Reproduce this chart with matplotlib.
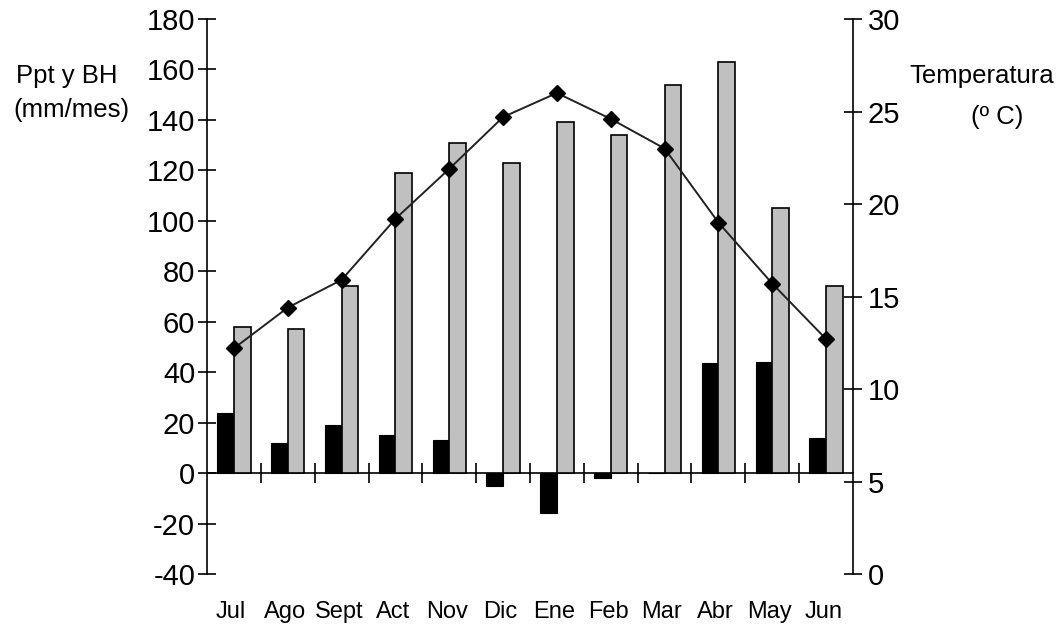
import numpy as np
import matplotlib
matplotlib.use("Agg")
import matplotlib.pyplot as plt

plt.rcParams['font.family'] = ['Liberation Sans', 'DejaVu Sans']
plt.rcParams['axes.unicode_minus'] = False

# Monthly water balance (mm/month) and mean temperature (deg C)
months = ["Jul", "Ago", "Sept", "Act", "Nov", "Dic",
          "Ene", "Feb", "Mar", "Abr", "May", "Jun"]
balance = [24, 12, 19, 15, 13, -5, -16, -2, 0, 43.5, 44, 14]
precip = [58, 57, 74, 119, 131, 123, 139, 134, 154, 163, 105, 74]
temperature = [12.2, 14.4, 15.9, 19.2, 21.9, 24.7, 26.0, 24.6, 23.0, 19.0, 15.7, 12.7]

left_ticks = list(range(-40, 181, 20))
right_ticks = list(range(0, 31, 5))

fig = plt.figure(figsize=(10.6, 6.29), dpi=100)
ax = fig.add_axes([0.1953, 0.0874, 0.6094, 0.8824])
ax2 = ax.twinx()

x = np.arange(len(months)) + 0.5
w = 0.31

ax.bar(x - w / 2, balance, width=w, color="black", edgecolor="black",
       linewidth=0.8, zorder=3)
ax.bar(x + w / 2, precip, width=w, color="#c0c0c0", edgecolor="black",
       linewidth=1.2, zorder=3)

ax.set_xlim(0, len(months))
ax.set_ylim(-40, 180)
ax.set_yticks(left_ticks)
ax.tick_params(axis="y", direction="inout", length=13, width=1.2,
               labelsize=21, pad=2)

# horizontal axis sits on the zero line, with ticks between months
ax.spines["bottom"].set_position(("data", 0))
ax.spines["bottom"].set_linewidth(1.2)
ax.spines["top"].set_visible(False)
ax.spines["right"].set_visible(False)
ax.spines["left"].set_linewidth(1.2)
ax.set_xticks(np.arange(1, len(months)))
ax.set_xticklabels([])
ax.tick_params(axis="x", direction="inout", length=15, width=1.2)

label_y = (574 - 618) / 555
for xi, m in zip(x, months):
    ax.text(xi - 0.05, label_y, m, transform=ax.get_xaxis_transform(),
            ha="center", va="baseline", fontsize=17)

ax2.plot(x, temperature, color="#222222", linewidth=1.4, marker="D",
         markersize=8, markerfacecolor="black", markeredgecolor="black",
         zorder=4)
ax2.set_ylim(0, 30)
ax2.set_yticks(right_ticks)
ax2.tick_params(axis="y", direction="inout", length=13, width=1.2,
                labelsize=21, pad=4)
for s in ["top", "left", "bottom"]:
    ax2.spines[s].set_visible(False)
ax2.spines["right"].set_linewidth(1.2)

fig.text(67 / 1060, 1 - 83 / 629, "Ppt y BH", ha="center", va="baseline", fontsize=18.5)
fig.text(71 / 1060, 1 - 110 / 629, "(mm/mes)", ha="center", va="center", fontsize=18.5)
fig.text(982 / 1060, 1 - 83 / 629, "Temperatura", ha="center", va="baseline", fontsize=18.5)
fig.text(997 / 1060, 1 - 117 / 629, "(º C)", ha="center", va="center", fontsize=18.5)

fig.savefig("out.png", dpi=100)
